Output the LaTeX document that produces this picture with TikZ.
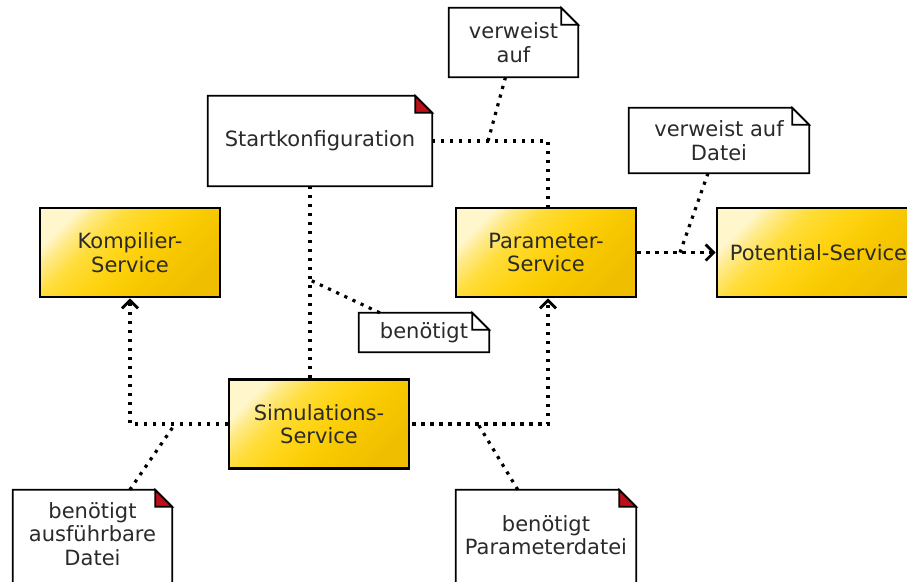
\documentclass[tikz,border=0pt]{standalone}
\usepackage{fontspec}
\setmainfont{DejaVu Sans}
\usetikzlibrary{arrows.meta,backgrounds}

\definecolor{foldred}{HTML}{BE0F1A}
\definecolor{txt}{HTML}{2A2A2A}
\definecolor{svcA}{HTML}{F0BE00}
\definecolor{svcB}{HTML}{F8C900}
\definecolor{svcC}{HTML}{FFD414}
\definecolor{svcD}{HTML}{FFDD3A}
\definecolor{svcE}{HTML}{FFEA88}
\definecolor{svcF}{HTML}{FFF6CC}

% diagonal gold fill of the service boxes, pale in the upper-left corner
\pgfdeclareverticalshading{svcshade}{100bp}{%
  color(0bp)=(svcA);
  color(25bp)=(svcA);
  color(40bp)=(svcB);
  color(52bp)=(svcC);
  color(62bp)=(svcD);
  color(70bp)=(svcE);
  color(75bp)=(svcF);
  color(100bp)=(svcF)}

% outline of a note with a folded top-right corner
\newcommand\notefold[2]{%
  \draw[noteline, fill=white] (#1.north west) -- ([xshift=-17pt]#1.north east)
    -- ([yshift=-17pt]#1.north east) -- (#1.south east) -- (#1.south west) -- cycle;
  \draw[noteline, fill=#2] ([xshift=-17pt]#1.north east)
    -- ([xshift=-17pt,yshift=-17pt]#1.north east) -- ([yshift=-17pt]#1.north east) -- cycle;
}

\begin{document}
\begin{tikzpicture}[x=1pt,y=-1pt,
  every node/.style={font=\fontsize{21}{23.5}\selectfont, text=txt, align=center, inner sep=0pt},
  service/.style={draw=black, line width=2.6pt, minimum width=180pt, minimum height=89pt,
    shading=svcshade, shading angle=45},
  note/.style={minimum width=#1},
  noteline/.style={draw=black, line width=1.7pt, line join=miter},
  dep/.style={line width=3.2pt, dash pattern=on 3.2pt off 5.8pt},
  open/.style={-{Straight Barb[length=8pt,width=16pt,line width=2.8pt]}}]

\useasboundingbox (0,0) rectangle (907,581);
\clip (0,0) rectangle (907,581);

% services
\node[service] (komp) at (130,252.5) {Kompilier-\\Service};
\node[service] (param) at (546,252.5) {Parameter-\\Service};
\node[service, minimum width=203pt] (pot) at (818.5,252.5) {Potential-Service};
\node[service] (sim) at (319,424) {Simulations-\\Service};

% notes
\node[note=224pt, minimum height=90pt] (start) at (320,141) {Startkonfiguration};
\node[note=129pt, minimum height=69pt] (va) at (513.5,42.5) {verweist\\auf};
\node[note=180pt, minimum height=65pt] (vad) at (719,140.5) {verweist auf\\Datei};
\node[note=130pt, minimum height=39pt] (ben) at (424,332.5) {benötigt};
\node[note=159pt, minimum height=130pt] (baD) at (92.5,555) {};
\node (baDtext) at (92.5,534) {benötigt\\ausführbare\\Datei};
\node[note=180pt, minimum height=130pt] (bP) at (546,555) {};
\node (bPtext) at (546,535) {benötigt\\Parameterdatei};

\begin{pgfonlayer}{background}
  \notefold{start}{foldred}
  \notefold{va}{white}
  \notefold{vad}{white}
  \notefold{ben}{white}
  \notefold{baD}{foldred}
  \notefold{bP}{foldred}
\end{pgfonlayer}

% junction points on the dependency lines
\coordinate (vaj) at (488,141);
\coordinate (benj) at (310,280);
\coordinate (baDj) at (175,424);
\coordinate (bPj) at (478,424);
\coordinate (vadj) at (680,252.5);

% dependencies
\draw[dep] (start.east) -| ([xshift=2pt]param.north);
\draw[dep] ([xshift=-10pt]start.south) -- ([xshift=-9pt]sim.north);
\draw[dep, open] (sim.west) -| (komp.south);
\draw[dep, open] ([xshift=2pt]sim.east) -| ([xshift=2pt]param.south);
\draw[dep, open] (param.east) -- (pot.west);

% note anchors
\draw[dep] ([xshift=-8pt]va.south) -- (vaj);
\draw[dep] ([xshift=-11pt]vad.south) -- (vadj);
\draw[dep] ([xshift=21pt]ben.north west) -- (benj);
\draw[dep] ([xshift=117pt]baD.north west) -- (baDj);
\draw[dep] ([xshift=62pt]bP.north west) -- (bPj);
\end{tikzpicture}
\end{document}
